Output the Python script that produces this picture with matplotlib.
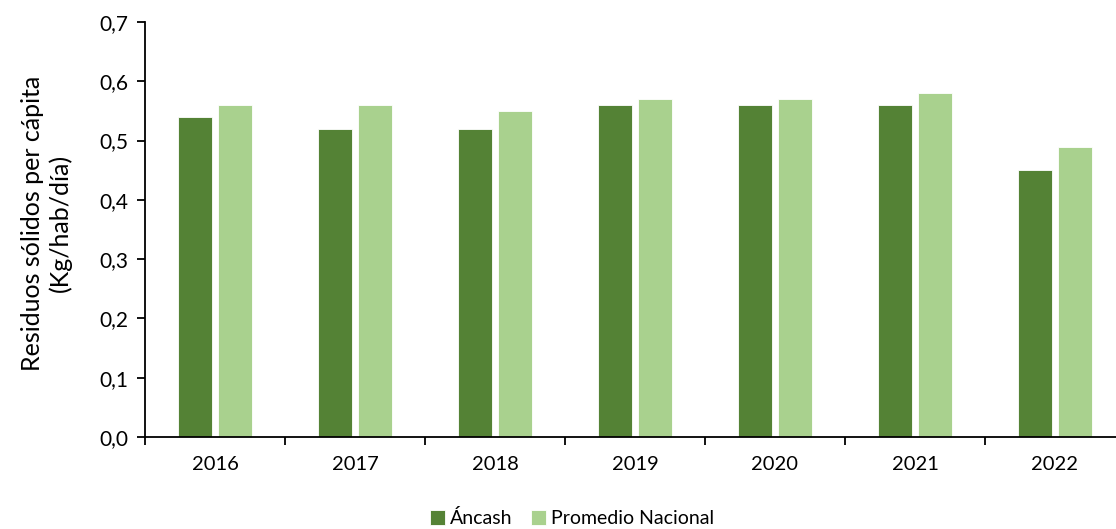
import numpy as np
from matplotlib import pyplot as plt
from matplotlib.ticker import FuncFormatter, FixedLocator

years = ['2016', '2017', '2018', '2019', '2020', '2021', '2022']
ancash = [0.54, 0.52, 0.52, 0.56, 0.56, 0.56, 0.45]
nacional = [0.56, 0.56, 0.55, 0.57, 0.57, 0.58, 0.49]

plt.rcParams['font.family'] = ['Lato', 'DejaVu Sans']

W, H = 1116, 529
fig = plt.figure(figsize=(W / 100, H / 100), dpi=100)
# axis runs past the right edge, like the original crop
ax = fig.add_axes([145 / W, 1 - 437 / H, 980 / W, 415 / H])

x = np.arange(len(years))
bw = 0.245
ax.bar(x - 0.143, ancash, bw, color='#548235', edgecolor='white', linewidth=0.6, label='Áncash')
ax.bar(x + 0.143, nacional, bw, color='#A9D18E', edgecolor='white', linewidth=0.6, label='Promedio Nacional')

ax.set_xlim(-0.5, len(years) - 0.5)
ax.set_ylim(0, 0.7)
ax.set_yticks(np.arange(0, 0.71, 0.1))
ax.yaxis.set_major_formatter(FuncFormatter(lambda v, p: f'{v:.1f}'.replace('.', ',')))

ax.set_xticks(x)
ax.set_xticklabels(years)
ax.xaxis.set_minor_locator(FixedLocator(np.arange(-0.5, len(years), 1)))
ax.tick_params(axis='x', which='major', length=0, pad=14, labelsize=14.5)
ax.tick_params(axis='x', which='minor', length=6, width=1.3, direction='out')
ax.tick_params(axis='y', length=6, width=1.3, direction='out', labelsize=15, pad=6)

for s in ['top', 'right']:
    ax.spines[s].set_visible(False)
for s in ['left', 'bottom']:
    ax.spines[s].set_linewidth(1.3)

ax.set_ylabel('Residuos sólidos per cápita\n(Kg/hab/día)', fontsize=18)
ax.yaxis.set_label_coords(-0.075, 0.515)

fig.legend(loc='lower center', bbox_to_anchor=(572 / W, -0.03), ncol=2, frameon=False,
           fontsize=14, handlelength=0.75, handleheight=0.75, handletextpad=0.25, columnspacing=1.0)

fig.savefig('out.png', dpi=100)
